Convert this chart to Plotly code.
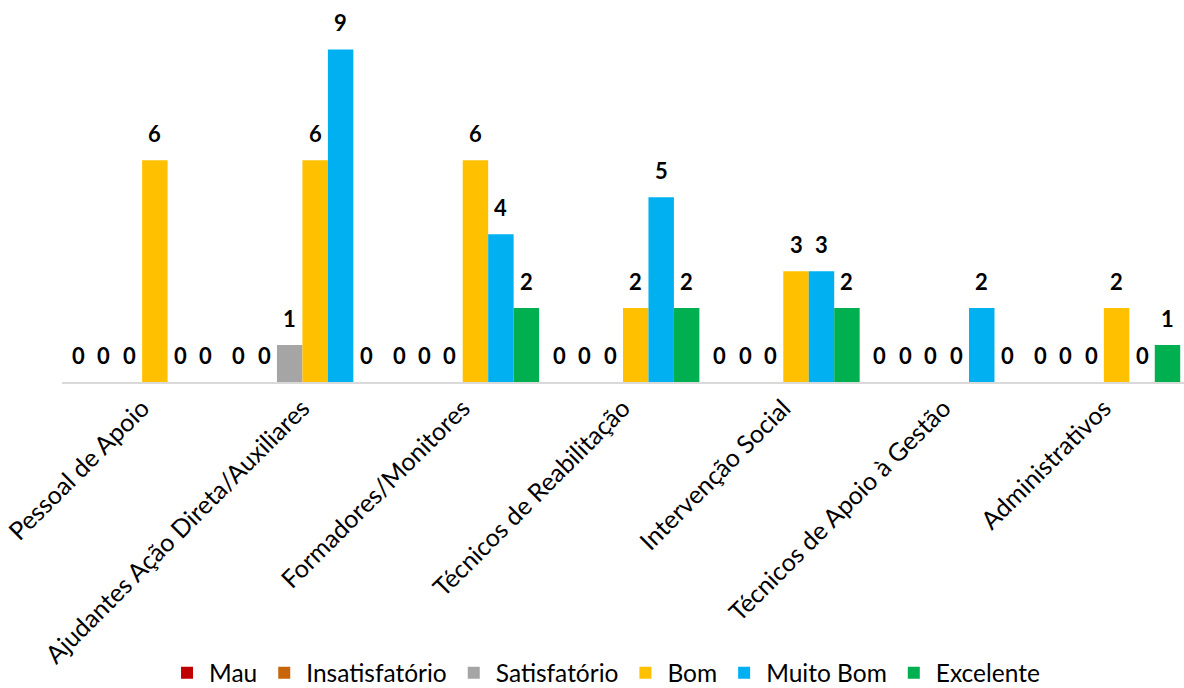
import plotly.graph_objects as go

categories = ["Pessoal de Apoio", "Ajudantes Ação Direta/Auxiliares", "Formadores/Monitores",
              "Técnicos de Reabilitação", "Intervenção Social", "Técnicos de Apoio à Gestão",
              "Administrativos"]
series_names = ["Mau", "Insatisfatório", "Satisfatório", "Bom", "Muito Bom", "Excelente"]
mau = [0, 0, 0, 0, 0, 0, 0]
insatisfatorio = [0, 0, 0, 0, 0, 0, 0]
satisfatorio = [0, 1, 0, 0, 0, 0, 0]
bom = [6, 6, 6, 2, 3, 0, 2]
muito_bom = [0, 9, 4, 5, 3, 2, 0]
excelente = [0, 0, 2, 2, 2, 0, 1]
series_values = [mau, insatisfatorio, satisfatorio, bom, muito_bom, excelente]
colors = ["#C00000", "#C8640A", "#A5A5A5", "#FFC000", "#00B0F0", "#00B050"]

W, H = 1184, 688
ml, mr, mt, mb = 62, 0, 31, 306
bargap = 0.047
FONT = "Lato"

fig = go.Figure()
for name, vals, col in zip(series_names, series_values, colors):
    fig.add_trace(go.Bar(x=categories, y=vals, name=name, marker_color=col,
                         marker_line_width=0))

cat_px = (W - ml - mr) / len(categories)
bar_px = cat_px * (1 - bargap) / len(series_names)
n = len(series_names)
annotations = []
for i, vals in enumerate(series_values):
    for c, v in zip(categories, vals):
        annotations.append(dict(x=c, y=v, xref="x", yref="y", text=f"<b>{v}</b>",
                                showarrow=False, xshift=(i - (n - 1) / 2) * bar_px,
                                yshift=27, yanchor="middle",
                                font=dict(family=FONT, size=22, color="black")))

fig.update_layout(
    width=W, height=H,
    margin=dict(l=ml, r=mr, t=mt, b=mb),
    barmode="group", bargap=bargap, bargroupgap=0,
    plot_bgcolor="white", paper_bgcolor="white",
    font=dict(family=FONT, size=24, color="black"),
    annotations=annotations,
    legend=dict(orientation="h", xref="container", x=0.511, xanchor="center",
                yref="container", y=0.022, yanchor="middle",
                font=dict(family=FONT, size=24.5, color="black"),
                itemwidth=34, tracegroupgap=0),
    xaxis=dict(tickangle=-45, showline=True, linecolor="#D9D9D9", linewidth=1.5,
               ticks="", showgrid=False, automargin=False,
               tickfont=dict(family=FONT, size=25, color="black")),
    yaxis=dict(range=[0, 9.5], visible=False, showgrid=False),
)
fig.write_html("out.html", config={"displayModeBar": False},
               post_script="document.body.style.margin='0';document.body.style.overflow='hidden';")
